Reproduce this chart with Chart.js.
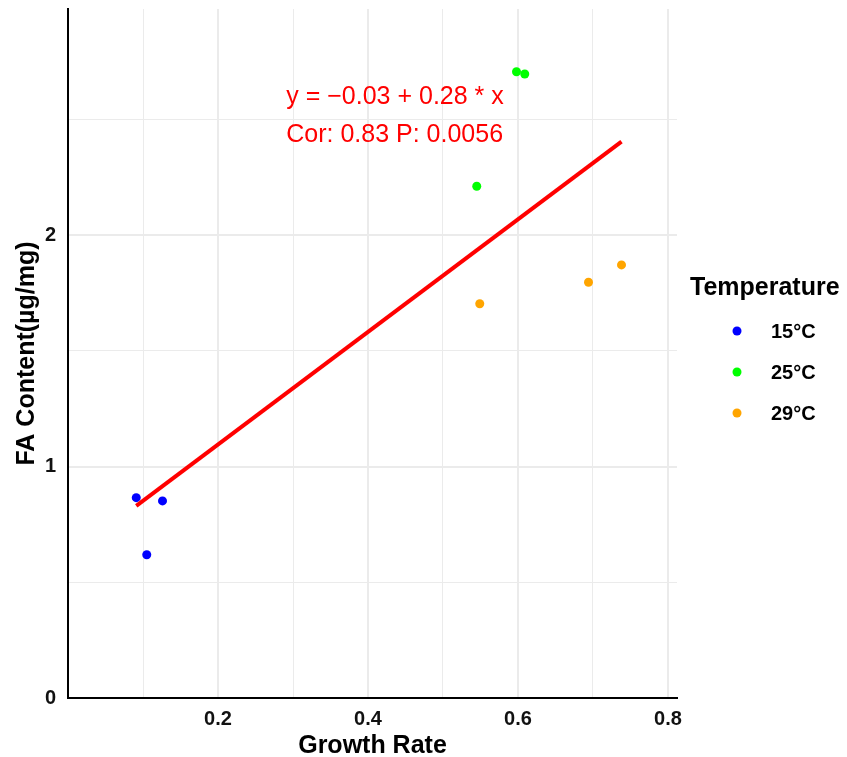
<!DOCTYPE html>
<html>
<head>
<meta charset="utf-8">
<script src="https://cdn.jsdelivr.net/npm/chart.js@4"></script>
<style>
html, body { margin: 0; padding: 0; background: #fff; }
</style>
</head>
<body>
<canvas id="myChart" width="847" height="757"></canvas>
<script>
// datos
const grupos = ['15°C', '25°C', '29°C'];
const colores = ['#0000ff', '#00ff00', '#ffa500'];
const tasa15 = [0.091, 0.126, 0.105];
const fa15 = [0.866, 0.852, 0.619];
const tasa25 = [0.598, 0.609, 0.545];
const fa25 = [2.707, 2.697, 2.212];
const tasa29 = [0.549, 0.694, 0.738];
const fa29 = [1.704, 1.797, 1.872];
const ajusteX = [0.091, 0.738];
const ajusteY = [0.83, 2.405];
const etiquetas = ['y = \u22120.03 + 0.28 * x', 'Cor: 0.83 P: 0.0056'];
const ticksX = [0.2, 0.4, 0.6, 0.8];
const ticksY = [0, 1, 2];

const fuente = "'Liberation Sans', Arial, Helvetica, sans-serif";
const puntos = (xs, ys) => xs.map((x, i) => ({x: x, y: ys[i]}));
const esTick = (lista, v) => lista.some(t => Math.abs(t - v) < 1e-6);

const series = [[tasa15, fa15], [tasa25, fa25], [tasa29, fa29]].map((s, i) => ({
    label: grupos[i],
    data: puntos(s[0], s[1]),
    backgroundColor: colores[i],
    borderColor: colores[i],
    pointRadius: 4.5,
    pointBorderWidth: 0,
    order: 1
}));

const extras = {
    id: 'extras',
    afterDraw(chart) {
        const ctx = chart.ctx;
        const ca = chart.chartArea;
        const xs = chart.scales.x, ys = chart.scales.y;
        ctx.save();
        // ecuacion
        ctx.fillStyle = '#ff0000';
        ctx.font = '25px ' + fuente;
        ctx.textAlign = 'left';
        ctx.textBaseline = 'alphabetic';
        ctx.fillText(etiquetas[0], xs.getPixelForValue(0.291), ys.getPixelForValue(2.566));
        ctx.fillText(etiquetas[1], xs.getPixelForValue(0.291), ys.getPixelForValue(2.404));
        // leyenda
        const mid = (ca.top + ca.bottom) / 2;
        ctx.fillStyle = '#000';
        ctx.font = 'bold 25px ' + fuente;
        ctx.fillText('Temperature', ca.right + 13, mid - 59);
        grupos.forEach((g, i) => {
            const y = mid - 22.5 + i * 41;
            ctx.beginPath();
            ctx.arc(ca.right + 60, y, 4.5, 0, 2 * Math.PI);
            ctx.fillStyle = colores[i];
            ctx.fill();
            ctx.fillStyle = '#000';
            ctx.font = 'bold 20px ' + fuente;
            ctx.textBaseline = 'middle';
            ctx.fillText(g, ca.right + 94, y + 1);
            ctx.textBaseline = 'alphabetic';
        });
        ctx.restore();
    }
};

const ctx = document.getElementById('myChart').getContext('2d');
const chart = new Chart(ctx, {
    type: 'scatter',
    data: {
        datasets: [{
            label: 'fit',
            data: puntos(ajusteX, ajusteY),
            showLine: true,
            borderColor: '#ff0000',
            borderWidth: 4,
            pointRadius: 0,
            order: 0
        }].concat(series)
    },
    options: {
        responsive: false,
        animation: false,
        layout: { padding: { top: 9, right: 170, bottom: 0, left: 0 } },
        plugins: {
            legend: { display: false },
            tooltip: { enabled: false }
        },
        scales: {
            x: {
                type: 'linear',
                min: 0,
                max: 0.812,
                afterFit: s => { s.height = 59; s.paddingLeft = 0; s.paddingRight = 0; },
                border: { color: '#000', width: 2 },
                grid: {
                    color: '#ebebeb',
                    lineWidth: c => esTick(ticksX, c.tick.value) ? 2 : 1,
                    drawTicks: false
                },
                ticks: {
                    stepSize: 0.1,
                    includeBounds: false,
                    autoSkip: false,
                    maxRotation: 0,
                    padding: 9,
                    color: '#111',
                    font: { family: fuente, size: 20, weight: 'bold' },
                    callback: v => esTick(ticksX, v) ? v.toFixed(1) : ''
                },
                title: {
                    display: true,
                    text: 'Growth Rate',
                    color: '#000',
                    padding: { top: 0, bottom: -2 },
                    font: { family: fuente, size: 25, weight: 'bold', lineHeight: 1 }
                }
            },
            y: {
                min: 0,
                max: 2.978,
                afterFit: s => { s.width = 68; s.paddingTop = 0; s.paddingBottom = 0; },
                border: { color: '#000', width: 2 },
                grid: {
                    color: '#ebebeb',
                    lineWidth: c => esTick(ticksY, c.tick.value) ? 2 : 1,
                    drawTicks: false
                },
                ticks: {
                    stepSize: 0.5,
                    includeBounds: false,
                    autoSkip: false,
                    padding: 12,
                    color: '#111',
                    font: { family: fuente, size: 20, weight: 'bold' },
                    callback: v => esTick(ticksY, v) ? String(v) : ''
                },
                title: {
                    display: true,
                    text: 'FA Content(µg/mg)',
                    color: '#000',
                    padding: { top: 15, bottom: 0 },
                    font: { family: fuente, size: 25, weight: 'bold', lineHeight: 1 }
                }
            }
        }
    },
    plugins: [extras]
});
</script>
</body>
</html>
